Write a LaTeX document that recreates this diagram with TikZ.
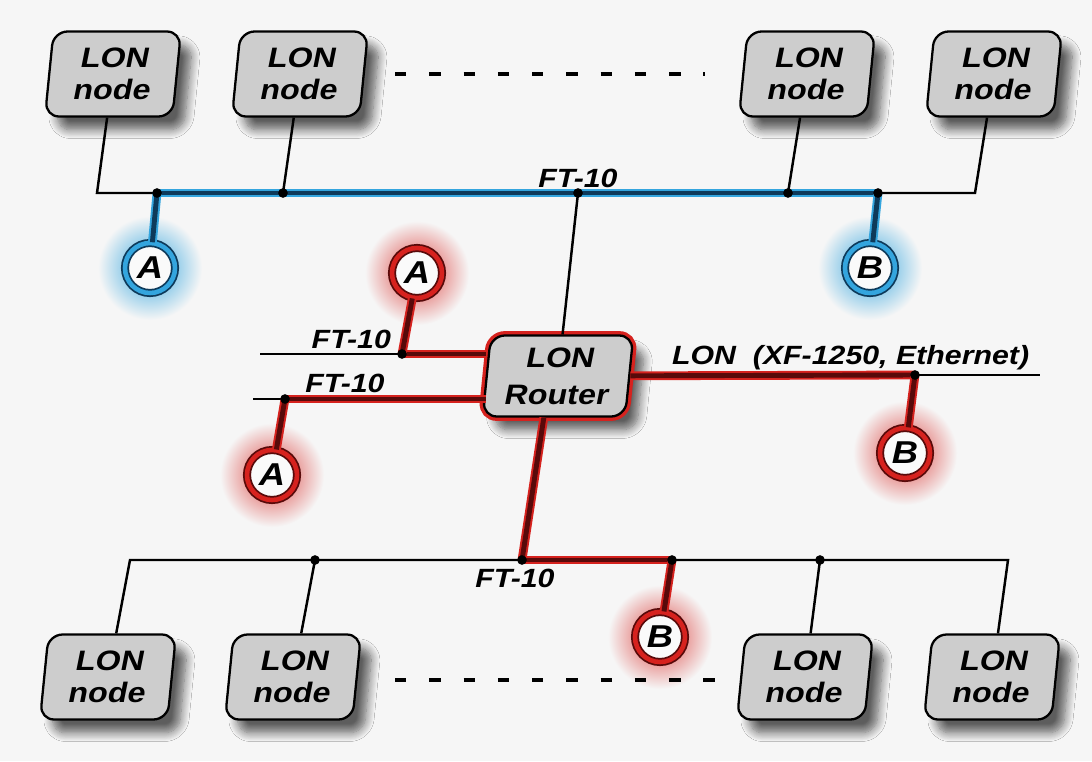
\documentclass[tikz,border=0pt]{standalone}
\usepackage{fontspec}
\setmainfont{Liberation Sans}
\newfontfamily\boxfont{Liberation Sans}[FakeSlant=0.1, FakeStretch=1.15]
\newfontfamily\lblfont{Liberation Sans}[FakeStretch=1.15]
\usepackage{tikz}
\usetikzlibrary{shadows.blur, positioning}

\definecolor{bgc}{RGB}{246,246,246}
\definecolor{boxgray}{RGB}{205,205,205}
\definecolor{busblue}{RGB}{14,58,90}
\definecolor{litblue}{RGB}{52,165,222}
\definecolor{busred}{RGB}{88,10,10}
\definecolor{litred}{RGB}{214,34,30}

\begin{document}
\begin{tikzpicture}[x=0.02cm, y=-0.02cm,
  lon/.style={rectangle, draw, line width=1.3pt, rounded corners=8pt, fill=boxgray,
    minimum width=2.55cm, minimum height=1.7cm, align=center, inner sep=2pt,
    font=\boxfont\bfseries\fontsize{16}{18}\selectfont, xslant=0.1, transform shape,
    blur shadow={shadow xshift=6.5pt, shadow yshift=-7.5pt, shadow blur radius=5pt, shadow blur steps=10, shadow opacity=62}},
  router/.style={lon, minimum width=2.85cm, minimum height=1.62cm,
    font=\boxfont\bfseries\fontsize{16}{21}\selectfont,
    preaction={draw=litred, line width=5pt}},
  term/.style={circle, line width=1pt, double distance=2.6pt, fill=white!50!bgc,
    minimum size=1.0cm, inner sep=0pt, font=\lblfont\bfseries\itshape\fontsize{18}{18}\selectfont},
  tblue/.style={term, draw=busblue, double=litblue},
  tred/.style={term, draw=busred, double=litred},
  wire/.style={line width=1.4pt},
  bblue/.style={draw=litblue, double=busblue, line width=1.1pt, double distance=2.8pt},
  bred/.style={draw=litred, double=busred, line width=1.1pt, double distance=2.8pt},
  jn/.style={circle, fill=black, inner sep=0pt, minimum size=5.5pt},
  lbl/.style={font=\lblfont\bfseries\itshape\fontsize{15}{18}\selectfont, inner sep=1pt},
  dots/.style={line width=1.8pt, dash pattern=on 6.5pt off 13pt},
  glowb/.style={inner color=litblue, outer color=bgc},
  glowr/.style={inner color=litred!85, outer color=bgc}
]
  \fill[bgc] (0,0) rectangle (1092,761);
  \useasboundingbox (0,0) rectangle (1092,761);

  % halos
  \shade[glowb] (150,268) circle (52);
  \shade[glowb] (870,268) circle (52);
  \shade[glowr] (417,273) circle (52);
  \shade[glowr] (272,475) circle (52);
  \shade[glowr] (905,453) circle (52);
  \shade[glowr] (660,637) circle (52);

  \node[lon] (T1) at (113,74)  {LON\\node};
  \node[lon] (T2) at (300,74)  {LON\\node};
  \node[lon] (T3) at (807,74)  {LON\\node};
  \node[lon] (T4) at (994,74)  {LON\\node};
  \node[lon] (B1) at (108,677) {LON\\node};
  \node[lon] (B2) at (293,677) {LON\\node};
  \node[lon] (B3) at (805,677) {LON\\node};
  \node[lon] (B4) at (992,677) {LON\\node};
  \node[router] (R) at (558,376) {LON\\Router};

  \node[tblue] (tA1) at (150,268) {A};
  \node[tblue] (tB1) at (870,268) {B};
  \node[tred]  (tA2) at (417,273) {A};
  \node[tred]  (tA3) at (272,475) {A};
  \node[tred]  (tB2) at (905,453) {B};
  \node[tred]  (tB3) at (660,637) {B};

  \coordinate (J0) at (578,193);
  \coordinate (J1) at (157,193);
  \coordinate (J2) at (283,193);
  \coordinate (J3) at (788,193);
  \coordinate (J4) at (878,193);
  \coordinate (J5) at (402,354);
  \coordinate (J6) at (285,399);
  \coordinate (J7) at (915,375);
  \coordinate (J8) at (522,560);
  \coordinate (J9) at (315,560);
  \coordinate (J10) at (672,560);
  \coordinate (J11) at (820,560);
  \coordinate (C1) at (97,193);
  \coordinate (C2) at (975,193);
  \coordinate (C3) at (130,560);
  \coordinate (C4) at (1008,560);
  \coordinate (E1) at (260,354);
  \coordinate (E2) at (253,399);
  \coordinate (E3) at (1040,375);
  \coordinate (D1) at (395,74);
  \coordinate (D2) at (705,74);
  \coordinate (D3) at (395,680);
  \coordinate (D4) at (715,680);

  % upper FT-10 segment
  \draw[wire] (T1) -- (C1) -- (J1);
  \draw[wire] (T2) -- (J2);
  \draw[wire] (T3) -- (J3);
  \draw[wire] (T4) -- (C2) -- (J4);
  \draw[bblue] (J1) -- (J4);
  \draw[bblue] (J1) -- (tA1);
  \draw[bblue] (J4) -- (tB1);
  \draw[wire] (J0) -- (R);

  % router side channels
  \draw[wire] (E1) -- (J5);
  \draw[bred] (J5) -- (R.west |- J5);
  \draw[bred] (J5) -- (tA2);
  \draw[wire] (E2) -- (J6);
  \draw[bred] (J6) -- (R.west |- J6);
  \draw[bred] (J6) -- (tA3);
  \draw[bred] (R) -- (J7);
  \draw[wire] (J7) -- (E3);
  \draw[bred] (J7) -- (tB2);

  % lower FT-10 segment
  \draw[bred] ([xshift=-0.2cm]R.south) -- (J8);
  \draw[wire] (B1) -- (C3) -- (J8);
  \draw[wire] (B2) -- (J9);
  \draw[bred] (J8) -- (J10);
  \draw[wire] (J10) -- (C4) -- (B4);
  \draw[wire] (B3) -- (J11);
  \draw[bred] (J10) -- (tB3);

  \draw[dots] (D1) -- (D2);
  \draw[dots] (D3) -- (D4);

  \foreach \j in {J0,J1,J2,J3,J4,J5,J6,J7,J8,J9,J10,J11}
    \node[jn] (d\j) at (\j) {};

  \node[lbl, above=2pt of J0] (L1) {FT-10};
  \node[lbl, anchor=south east] (L2) at (393,351) {FT-10};
  \node[lbl, anchor=south] (L3) at (345,395) {FT-10};
  \node[lbl, anchor=south west] (L4) at (670,372) {LON\ \ (XF-1250, Ethernet)};
  \node[lbl, anchor=north] (L5) at (515,567) {FT-10};
\end{tikzpicture}
\end{document}
